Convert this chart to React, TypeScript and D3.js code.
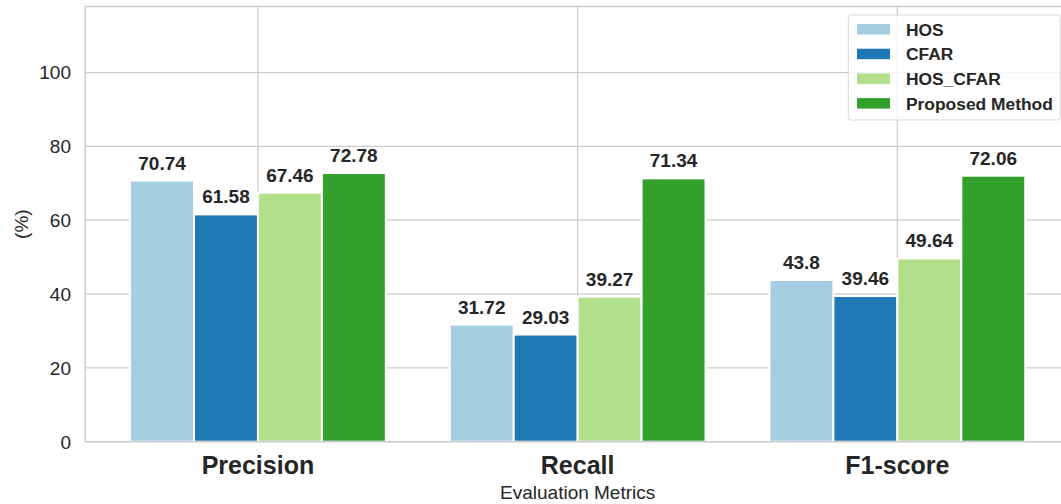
import React from "react";
import * as d3 from "d3";

const categories = ["Precision", "Recall", "F1-score"];
const seriesNames = ["HOS", "CFAR", "HOS_CFAR", "Proposed Method"];
const hosValues = [70.74, 31.72, 43.8];
const cfarValues = [61.58, 29.03, 39.46];
const hosCfarValues = [67.46, 39.27, 49.64];
const proposedValues = [72.78, 71.34, 72.06];
const seriesColors = ["#a6cee3", "#1f78b4", "#b2df8a", "#33a02c"];
const yTicks = [0, 20, 40, 60, 80, 100];

const W = 1061;
const H = 504;
const left = 85.3;
const right = 1070;
const top = 6.5;
const bottom = 441.7;
const FONT = "'Liberation Sans', Arial, Helvetica, sans-serif";
const TEXT = "#262626";
const GRID = "#cccccc";

export default function App() {
  const series = [hosValues, cfarValues, hosCfarValues, proposedValues];
  const x = d3.scaleLinear().domain([-0.54, 2.54]).range([left, right]);
  const inner = d3.scaleBand<string>().domain(seriesNames).range([-0.4, 0.4]).padding(0);
  const y = d3.scaleLinear().domain([0, 117.9]).range([bottom, top]);
  const step = x(1) - x(0);

  return (
    <svg width={W} height={H} style={{ position: "absolute", left: 0, top: 0, background: "#fff" }} fontFamily={FONT}>
      <rect x={0} y={0} width={W} height={H} fill="#fff" />
      {yTicks.map((t) => (
        <line key={"gy" + t} x1={left} x2={right} y1={y(t)} y2={y(t)} stroke={GRID} strokeWidth={1.25} />
      ))}
      {categories.map((c, i) => (
        <line key={"gx" + c} x1={x(i)} x2={x(i)} y1={top} y2={bottom} stroke={GRID} strokeWidth={1.25} />
      ))}
      {series.map((vals, si) =>
        vals.map((v, ci) => {
          const x0 = x(ci + (inner(seriesNames[si]) as number));
          const bw = inner.bandwidth() * step;
          return (
            <rect
              key={`b${si}-${ci}`}
              x={x0}
              y={y(v)}
              width={bw}
              height={y(0) - y(v)}
              fill={seriesColors[si]}
              stroke="#fff"
              strokeWidth={2}
            />
          );
        })
      )}
      <line x1={left} x2={left} y1={top} y2={bottom} stroke={GRID} strokeWidth={1.5} />
      <line x1={left} x2={right} y1={bottom} y2={bottom} stroke={GRID} strokeWidth={1.5} />
      <line x1={left} x2={right} y1={top} y2={top} stroke={GRID} strokeWidth={1.5} />
      {series.map((vals, si) =>
        vals.map((v, ci) => {
          const cx = x(ci + (inner(seriesNames[si]) as number)) + (inner.bandwidth() * step) / 2;
          return (
            <text
              key={`l${si}-${ci}`}
              x={cx}
              y={y(v) - 11}
              textAnchor="middle"
              fontSize={19}
              fontWeight="bold"
              fill={TEXT}
            >
              {String(v)}
            </text>
          );
        })
      )}
      {yTicks.map((t) => (
        <text key={"yt" + t} x={71} y={y(t)} dy="0.36em" textAnchor="end" fontSize={19} fill={TEXT}>
          {t}
        </text>
      ))}
      {categories.map((c, i) => (
        <text key={"xt" + c} x={x(i)} y={474} textAnchor="middle" fontSize={25} fontWeight="bold" fill={TEXT}>
          {c}
        </text>
      ))}
      <text x={(left + right) / 2} y={499} textAnchor="middle" fontSize={19} fill={TEXT}>
        Evaluation Metrics
      </text>
      <text
        transform={`translate(${28},${(top + bottom) / 2}) rotate(-90)`}
        textAnchor="middle"
        fontSize={19}
        fill={TEXT}
      >
        (%)
      </text>
      <g>
        <rect x={848.3} y={15} width={212} height={105} rx={3} fill="#fff" fillOpacity={0.8} stroke={GRID} strokeOpacity={0.8} strokeWidth={1} />
        {seriesNames.map((s, i) => (
          <g key={"lg" + s} transform={`translate(0, ${i * 24.7})`}>
            <rect x={857} y={24} width={33} height={10.5} fill={seriesColors[i]} />
            <text x={906} y={35.8} fontSize={17.4} fontWeight="bold" fill={TEXT}>
              {s}
            </text>
          </g>
        ))}
      </g>
    </svg>
  );
}
